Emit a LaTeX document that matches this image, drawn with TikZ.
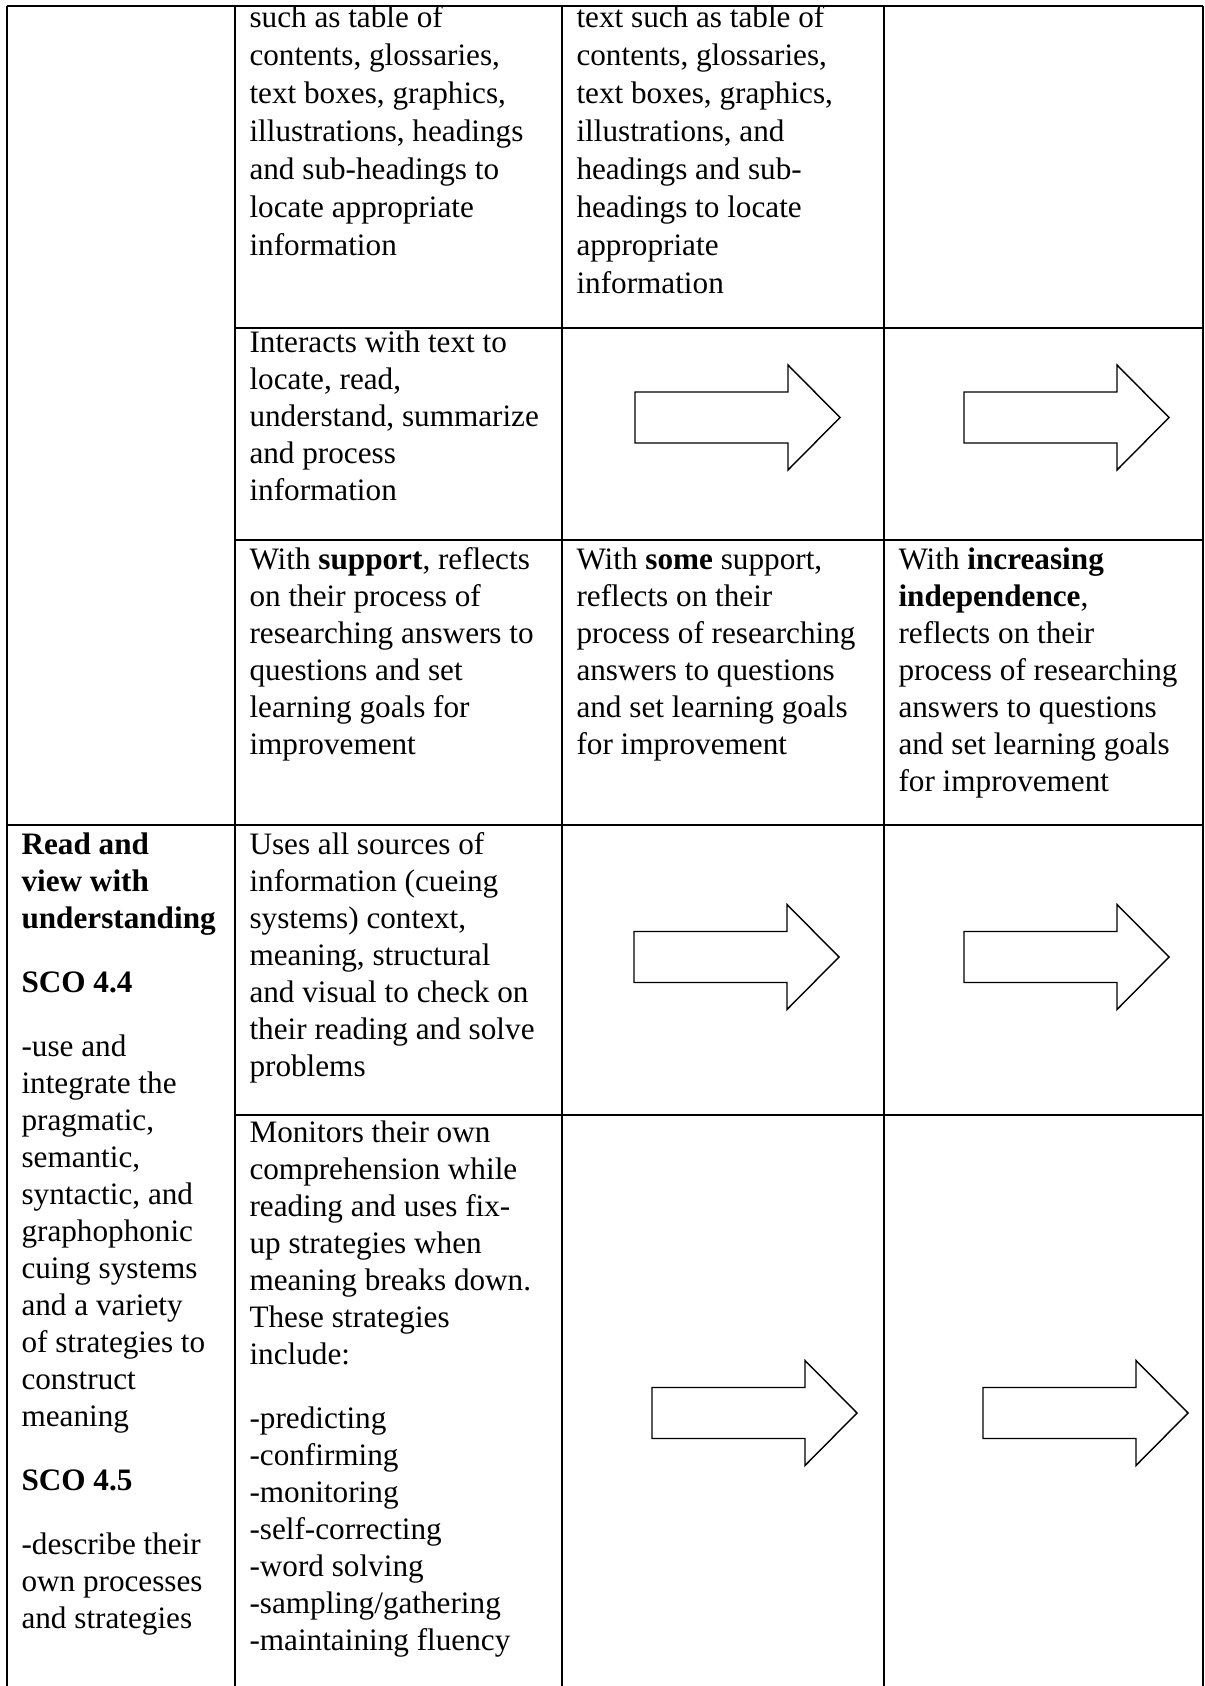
\documentclass[tikz,border=0pt]{standalone}
\usepackage{fontspec}
\setmainfont{Liberation Serif}
\newlength{\pgap}
\setlength{\pgap}{10.4pt}
\begin{document}
\begin{tikzpicture}[x=0.3846pt,y=-0.3846pt,
  rule/.style={line width=1.05pt, black},
  cell/.style={anchor=north west, inner sep=0pt, align=left,
    font=\fontsize{12pt}{14.23pt}\selectfont},
  widecell/.style={cell, font=\fontsize{12pt}{14.61pt}\selectfont},
  arrowline/.style={line width=0.55pt, black, line join=miter},
  rarrow/.pic={\draw[arrowline] (0,-25.5) -- (153,-25.5) -- (153,-52.5) -- (205,0)
     -- (153,52.5) -- (153,25.5) -- (0,25.5) -- cycle;}]
\useasboundingbox (0,0) rectangle (1204,1686);

% table rules
\draw[rule] (7,6) -- (1203,6);
\draw[rule] (235,328) -- (1203,328);
\draw[rule] (235,540) -- (1203,540);
\draw[rule] (7,825) -- (1203,825);
\draw[rule] (235,1115) -- (1203,1115);
\foreach \cx in {7,235,562,884,1203}
  \draw[rule] (\cx,6) -- (\cx,1690);

% row 1
\node[widecell] (r1b) at (249,0.6) {\strut such as table of\\contents, glossaries,\\text boxes, graphics,\\illustrations, headings\\and sub-headings to\\locate appropriate\\information};
\node[widecell] (r1c) at (576,0.6) {\strut text such as table of\\contents, glossaries,\\text boxes, graphics,\\illustrations, and\\headings and sub-\\headings to locate\\appropriate\\information};

% row 2
\node[cell] (r2b) at (249,326.1) {\strut Interacts with text to\\locate, read,\\understand, summarize\\and process\\information};
\pic at (635,417.5) {rarrow};
\pic at (964,417.5) {rarrow};

% row 3
\node[cell] (r3b) at (249,543.1) {\strut With \textbf{support}, reflects\\on their process of\\researching answers to\\questions and set\\learning goals for\\improvement};
\node[cell] (r3c) at (576,543.1) {\strut With \textbf{some} support,\\reflects on their\\process of researching\\answers to questions\\and set learning goals\\for improvement};
\node[cell] (r3d) at (898,543.1) {\strut With \textbf{increasing}\\\textbf{independence},\\reflects on their\\process of researching\\answers to questions\\and set learning goals\\for improvement};

% rows 4 and 5, first column
\node[cell] (r4a) at (21,828.1) {\strut\textbf{Read and}\\\textbf{view with}\\\textbf{understanding}\\[\pgap]
\textbf{SCO 4.4}\\[\pgap]
-use and\\integrate the\\pragmatic,\\semantic,\\syntactic, and\\graphophonic\\cuing systems\\and a variety\\of strategies to\\construct\\meaning\\[\pgap]
\textbf{SCO 4.5}\\[\pgap]
-describe their\\own processes\\and strategies};

% row 4
\node[cell] (r4b) at (249,828.1) {\strut Uses all sources of\\information (cueing\\systems) context,\\meaning, structural\\and visual to check on\\their reading and solve\\problems};
\pic at (634,957) {rarrow};
\pic at (964,957) {rarrow};

% row 5
\node[cell] (r5b) at (249,1116.1) {\strut Monitors their own\\comprehension while\\reading and uses fix-\\up strategies when\\meaning breaks down.\\These strategies\\include:\\[\pgap]
-predicting\\-confirming\\-monitoring\\-self-correcting\\-word solving\\-sampling/gathering\\-maintaining fluency};
\pic at (652,1413) {rarrow};
\pic at (983,1413) {rarrow};
\end{tikzpicture}
\end{document}
